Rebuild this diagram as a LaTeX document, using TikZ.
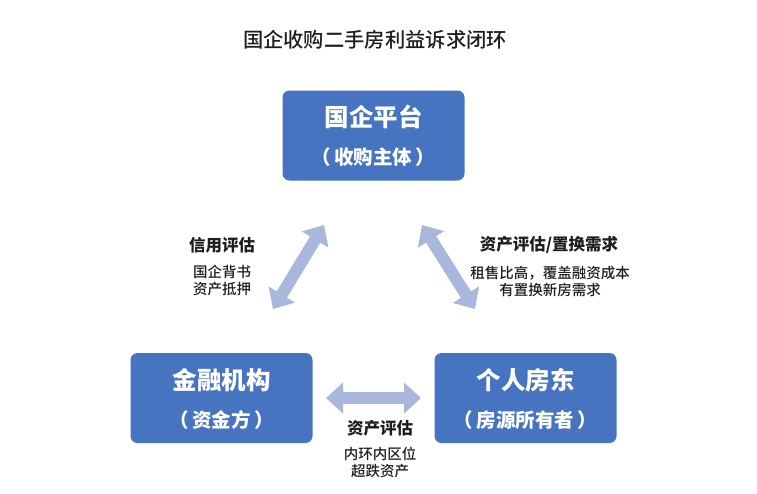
\documentclass[tikz,border=0pt]{standalone}
\usepackage{fontspec}
\setmainfont{Noto Sans CJK SC}
\newfontfamily\cjkmed{Noto Sans CJK SC Medium}
\usetikzlibrary{arrows.meta}
\definecolor{boxblue}{HTML}{4674C1}
\definecolor{arrowblue}{HTML}{A9B7DD}
\definecolor{txt}{HTML}{1E1E1E}
\begin{document}
\begin{tikzpicture}[x=1pt,y=-1pt,
  box/.style={draw=none,fill=boxblue,rounded corners=7pt,minimum width=182pt,minimum height=90pt,inner sep=0pt},
  boxhead/.style={text=white,font=\fontsize{24.5}{28}\selectfont\bfseries,inner sep=0pt},
  boxsub/.style={text=white,font=\fontsize{19.5}{22}\selectfont\bfseries,inner sep=0pt},
  lblhead/.style={text=txt,font=\fontsize{16.5}{20}\selectfont\bfseries,inner sep=0pt},
  lbltext/.style={text=txt,font=\fontsize{14.5}{16}\selectfont\cjkmed,inner sep=0pt,align=center},
  fatarrow/.style={draw=arrowblue,line width=12pt,{Triangle[length=17pt,width=30pt]}-{Triangle[length=17pt,width=30pt]}}
]
\useasboundingbox (0,0) rectangle (757,493);
\fill[white] (0,0) rectangle (757,493);

\node[text=txt,font=\fontsize{20.3}{24}\selectfont\cjkmed,inner sep=0pt] (title) at (375,40) {国企收购二手房利益诉求闭环};

% boxes
\node[box] (top) at (373.5,135.5) {};
\node[boxhead] (topA) at (373.5,117) {国企平台};
\node[boxsub] (topB) at (373.5,157) {（\hspace{3.5pt}收购主体\hspace{3.5pt}）};

\node[box] (left) at (221.5,398) {};
\node[boxhead] (leftA) at (221.5,380) {金融机构};
\node[boxsub] (leftB) at (221.5,420) {（\hspace{3.5pt}资金方\hspace{3.5pt}）};

\node[box] (right) at (525.5,398) {};
\node[boxhead] (rightA) at (525.5,380) {个人房东};
\node[boxsub] (rightB) at (525.5,420) {（\hspace{3.5pt}房源所有者\hspace{3.5pt}）};

% arrows
\coordinate (l1) at (273,309);
\coordinate (l2) at (324,225);
\coordinate (r1) at (422,225);
\coordinate (r2) at (475,309);
\coordinate (b1) at (326,398);
\coordinate (b2) at (421,398);
\draw[fatarrow] (l1) -- (l2);
\draw[fatarrow] (r1) -- (r2);
\draw[fatarrow] (b1) -- (b2);

% labels
\node[lblhead] (lh) at (222,245) {信用评估};
\node[lbltext] (lt) at (222,280) {国企背书\\[1pt]资产抵押};

\node[lblhead] (rh) at (549,245) {资产评估/置换需求};
\node[lbltext] (rt) at (550,281) {租售比高，覆盖融资成本\\[1pt]有置换新房需求};

\node[lblhead] (bh) at (380,428) {资产评估};
\node[lbltext] (bt) at (380,462.5) {内环内区位\\[1pt]超跌资产};
\end{tikzpicture}
\end{document}
